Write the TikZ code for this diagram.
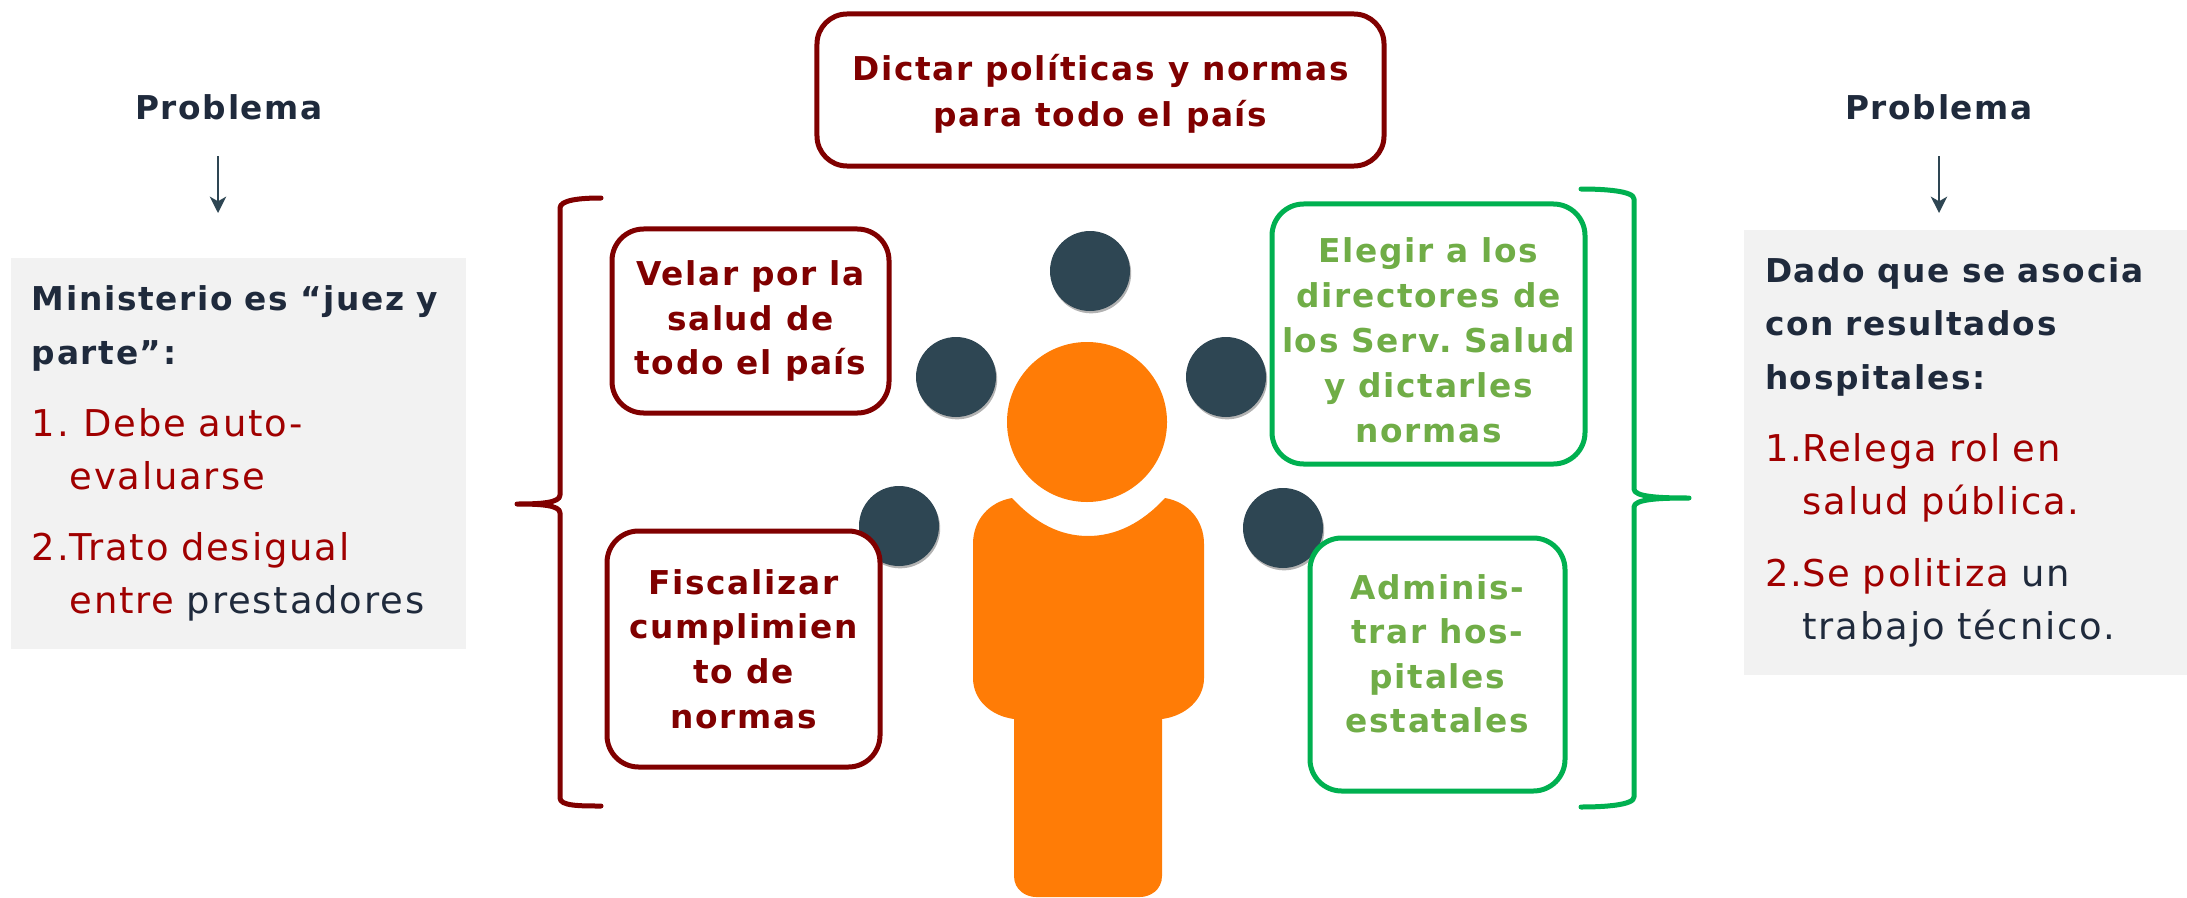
\documentclass[tikz,border=0pt]{standalone}
\usepackage{fontspec}
\setmainfont[LetterSpace=5]{DejaVu Sans}
\usetikzlibrary{shadows,arrows.meta}
\definecolor{wine}{HTML}{800000}
\definecolor{redtxt}{HTML}{A00000}
\definecolor{leaf}{HTML}{70AD47}
\definecolor{mint}{HTML}{00B050}
\definecolor{ink}{HTML}{1F2A3C}
\definecolor{slate}{HTML}{2E4653}
\definecolor{panel}{HTML}{F2F2F2}
\definecolor{person}{HTML}{FF7C06}
\newcommand{\bsz}{\fontsize{28}{38}\selectfont\bfseries}
\newcommand{\rsz}{\fontsize{31.5}{45.5}\selectfont}
\newcommand{\hb}{\fontsize{28}{45.5}\selectfont\bfseries}
\newcommand{\ind}[2]{\makebox[#1pt][l]{#2}}
\frenchspacing
\tikzset{
  rolebox/.style={rounded corners=0.95cm,line width=0.15cm,fill=white,inner sep=0pt,align=center,font=\bsz},
  wbox/.style={rolebox,draw=wine,text=wine},
  gbox/.style={rolebox,draw=mint,text=leaf},
  dot/.style={circle,fill=slate,minimum size=2.4cm,inner sep=0pt,drop shadow={shadow xshift=1pt,shadow yshift=-2pt,opacity=.3,fill=black}},
  panelbox/.style={rectangle,fill=panel,inner xsep=.63cm,inner ysep=0pt,align=left,text=ink,font=\rsz},
  probl/.style={font=\bsz,text=ink,inner sep=0pt},
  thinarrow/.style={draw=slate,line width=1.3pt,-{Stealth[length=14pt,width=14pt,inset=4pt]}},
  bracket/.style={line width=0.15cm,line cap=round,line join=round,preaction={draw=black!22,transform canvas={xshift=1pt,yshift=-1.5pt}}},
}
\begin{document}
\begin{tikzpicture}[x=0.03cm,y=-0.03cm]
\useasboundingbox (0,0) rectangle (2187,897);
% person
\node[circle,fill=person,minimum size=4.8cm,inner sep=0pt] (head) at (1087,422) {};
\fill[person] (1012,498) .. controls (1035,523) and (1060,536) .. (1088,536)
  .. controls (1116,536) and (1142,523) .. (1165,498)
  .. controls (1188,502) and (1204,520) .. (1204,544) -- (1204,678)
  .. controls (1204,700) and (1185,716) .. (1162,719) -- (1162,876)
  .. controls (1162,890) and (1150,897) .. (1140,897) -- (1036,897)
  .. controls (1026,897) and (1014,890) .. (1014,876) -- (1014,719)
  .. controls (991,716) and (973,700) .. (973,678) -- (973,544)
  .. controls (973,520) and (989,502) .. (1012,498) -- cycle;
% dots
\node[dot] (d1) at (1090,271) {};
\node[dot] (d2) at (956,377) {};
\node[dot] (d3) at (1226,377) {};
\node[dot] (d4) at (899,526) {};
\node[dot] (d5) at (1283,528) {};
% role boxes
\node[wbox,rounded corners=0.9cm,minimum width=17.01cm,minimum height=4.56cm,font=\fontsize{28}{39}\selectfont\bfseries] (top) at (1100.5,90) {\rule{0pt}{29pt}Dictar políticas y normas\\para todo el país};
\node[wbox,minimum width=8.31cm,minimum height=5.52cm] (velar) at (750.5,321) {Velar por la\\salud de\\todo el país};
\node[wbox,minimum width=8.19cm,minimum height=7.08cm] (fisc) at (743.5,649) {Fiscalizar\\cumplimien\\to de\\normas};
\node[gbox,minimum width=9.39cm,minimum height=7.8cm,font=\fontsize{28}{38.5}\selectfont\bfseries] (elegir) at (1428.5,334) {\rule{0pt}{32pt}Elegir a los\\directores de\\los Serv. Salud\\y dictarles\\normas};
\node[gbox,minimum width=7.65cm,minimum height=7.59cm] (admin) at (1437.5,664.5) {Adminis-\\trar hos-\\pitales\\estatales\rule[-19pt]{0pt}{0pt}};
% braces
\draw[bracket,wine] (601,198) .. controls (580,198) and (560,200) .. (560,208) -- (560,495)
  .. controls (560,503) and (540,504) .. (517,504) .. controls (540,504) and (560,505) .. (560,513)
  -- (560,798) .. controls (560,806) and (580,806) .. (601,806);
\draw[bracket,mint] (1581,189) .. controls (1605,189) and (1634,191) .. (1634,199) -- (1634,489)
  .. controls (1634,497) and (1660,498) .. (1689,498) .. controls (1660,498) and (1634,499) .. (1634,507)
  -- (1634,797) .. controls (1634,805) and (1605,807) .. (1581,807);
% problem titles
\node[probl] (pl) at (229,107) {Problema};
\node[probl] (pr) at (1939,107) {Problema};
\coordinate (als) at (218,156);
\coordinate (ale) at (218,213);
\coordinate (ars) at (1939,156);
\coordinate (are) at (1939,213);
\draw[thinarrow] (als) -- (ale);
\draw[thinarrow] (ars) -- (are);
% panels
\node[panelbox,minimum width=13.65cm,minimum height=11.73cm,text width=12.39cm] (lp) at (238.5,453.5) {%
{\hb Ministerio es “juez y}\\
{\hb parte”:}\\[16pt]
\textcolor{redtxt}{\ind{44}{1.}Debe auto-}\\
\textcolor{redtxt}{\ind{32}{}evaluarse}\\[15pt]
\textcolor{redtxt}{\ind{32}{2.}Trato desigual}\\
\ind{32}{}\textcolor{redtxt}{entre} prestadores};
\node[panelbox,minimum width=13.29cm,minimum height=13.32cm,text width=12.03cm] (rp) at (1965.5,452.5) {%
{\hb Dado que se asocia}\\
{\hb con resultados}\\
{\hb hospitales:}\\[16pt]
\textcolor{redtxt}{\ind{32}{1.}Relega rol en}\\
\textcolor{redtxt}{\ind{32}{}salud pública.}\\[16pt]
\ind{32}{\textcolor{redtxt}{2.}}\textcolor{redtxt}{Se politiza} un\\
\ind{32}{}trabajo técnico.};
\end{tikzpicture}
\end{document}
